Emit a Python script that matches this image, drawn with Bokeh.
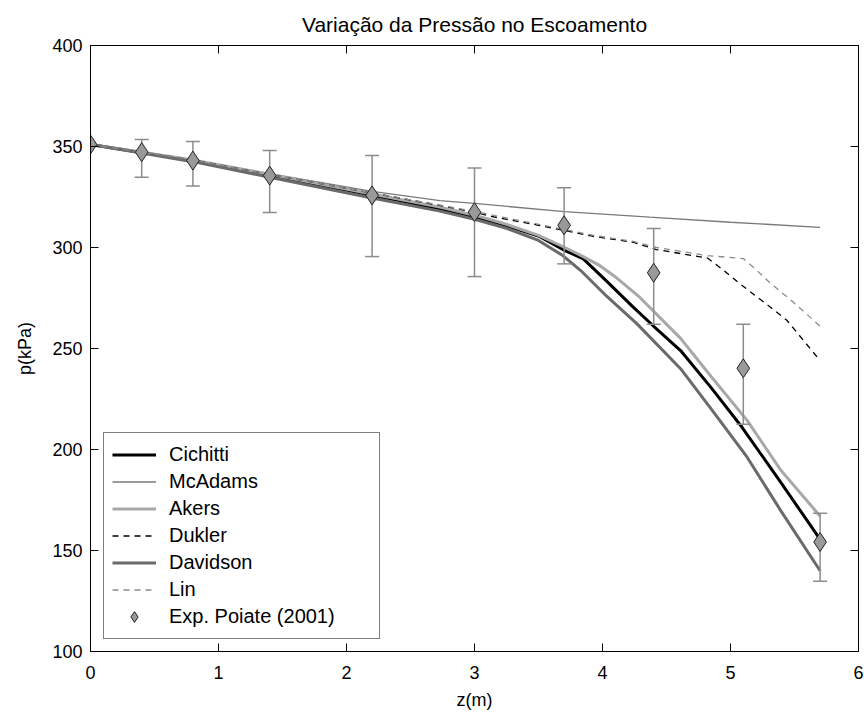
from bokeh.plotting import figure
from bokeh.models import LinearAxis, Range1d, Legend, LegendItem, FixedTicker, ColumnDataSource
from bokeh.embed import file_html
from bokeh.resources import INLINE

# ---------------- data ----------------
title_text = "Variação da Pressão no Escoamento"
x_label = "z(m)"
y_label = "p(kPa)"
x_ticks = [0, 1, 2, 3, 4, 5, 6]
y_ticks = [100, 150, 200, 250, 300, 350, 400]

z_cichitti = [0, 0.4, 0.8, 1.4, 2.2, 2.73, 3.0, 3.25, 3.51, 3.69, 3.85, 4.03, 4.24, 4.4, 4.61, 4.85, 5.09, 5.39, 5.7]
p_cichitti = [351, 347, 343, 335.6, 325.8, 319.2, 315.2, 310.8, 305.4, 299.0, 294.4, 283.5, 270.5, 261.0, 249.0, 230.5, 211.0, 184.0, 155.5]

z_mcadams = [0, 0.4, 0.8, 1.4, 2.2, 2.73, 3.0, 3.7, 4.37, 5.0, 5.7]
p_mcadams = [351, 347.2, 343.3, 336.6, 327.8, 323.2, 321.8, 317.8, 315.0, 312.5, 310.0]

z_akers = [0, 0.4, 0.8, 1.4, 2.2, 2.73, 3.0, 3.25, 3.5, 3.69, 3.85, 3.98, 4.11, 4.29, 4.61, 4.85, 5.13, 5.39, 5.7]
p_akers = [351, 347.2, 343.3, 336.2, 326.5, 320.0, 316.0, 311.5, 306.0, 300.5, 295.5, 291.0, 285.0, 275.4, 255.0, 236.0, 214.4, 190.0, 167.0]

z_dukler = [0, 0.4, 0.8, 1.4, 2.2, 2.73, 3.0, 3.12, 3.5, 3.93, 4.24, 4.42, 4.82, 4.94, 5.07, 5.28, 5.44, 5.7]
p_dukler = [351, 347.2, 343.3, 336.2, 327.0, 320.8, 317.5, 315.5, 311.0, 305.5, 302.6, 299.0, 294.8, 289.0, 282.2, 272.0, 264.0, 244.0]

z_davidson = [0, 0.4, 0.8, 1.4, 2.2, 2.73, 3.0, 3.25, 3.5, 3.69, 3.83, 4.03, 4.27, 4.61, 4.85, 5.13, 5.39, 5.7]
p_davidson = [351, 346.8, 342.5, 334.8, 324.5, 318.0, 314.0, 309.5, 303.5, 296.0, 288.6, 276.0, 262.2, 240.0, 220.0, 196.2, 170.0, 140.0]

z_lin = [0, 0.4, 0.8, 1.4, 2.2, 2.73, 3.0, 3.5, 3.93, 4.24, 4.42, 4.82, 5.1, 5.19, 5.3, 5.49, 5.7]
p_lin = [351, 347.2, 343.3, 336.2, 327.0, 321.0, 317.8, 311.5, 306.0, 303.0, 300.0, 296.0, 294.5, 289.6, 283.0, 273.0, 261.0]

z_exp = [0, 0.4, 0.8, 1.4, 2.2, 3.0, 3.7, 4.4, 5.1, 5.7]
p_exp = [351, 347.2, 343.0, 335.6, 325.8, 317.5, 311.0, 287.5, 240.2, 154.2]
p_exp_lo = [351, 334.8, 330.5, 317.3, 295.5, 285.6, 291.9, 262.0, 212.5, 134.8]
p_exp_hi = [351, 353.5, 352.5, 348.0, 345.5, 339.3, 329.6, 309.4, 262.0, 168.5]

series_names = ["Cichitti", "McAdams", "Akers", "Dukler", "Davidson", "Lin", "Exp. Poiate (2001)"]

# ---------------- styling ----------------
FONT = "Liberation Sans"
ERR = "#8c8c8c"

p = figure(width=864, height=717, x_range=Range1d(0, 6), y_range=Range1d(100, 400),
           output_backend="svg", toolbar_location=None,
           min_border_left=90, min_border_right=6, min_border_top=45, min_border_bottom=66)
p.background_fill_color = "white"
p.border_fill_color = "white"
p.outline_line_color = None
p.xgrid.visible = False
p.ygrid.visible = False

p.title.text = title_text
p.title.align = "center"
p.title.text_font = FONT
p.title.text_font_size = "21px"
p.title.text_font_style = "normal"
p.title.text_color = "black"
p.title.standoff = 19

def style_axis(ax, ticks, show_labels=True):
    ax.ticker = FixedTicker(ticks=ticks)
    ax.major_tick_in = 8
    ax.major_tick_out = 0
    ax.minor_tick_line_color = None
    ax.axis_line_color = "black"
    ax.axis_line_width = 1
    ax.major_tick_line_color = "black"
    ax.major_tick_line_width = 1
    ax.major_label_text_font = FONT
    ax.major_label_text_color = "black"
    ax.axis_label_text_font = FONT
    ax.axis_label_text_font_style = "normal"
    ax.axis_label_text_color = "black"
    if show_labels:
        ax.major_label_text_font_size = "18px"
        ax.axis_label_text_font_size = "18px"
    else:
        ax.major_label_text_font_size = "0px"
        ax.major_label_standoff = 0
        ax.major_label_overrides = {t: "" for t in ticks}

style_axis(p.xaxis[0], x_ticks)
style_axis(p.yaxis[0], y_ticks)
p.xaxis[0].axis_label = x_label
p.yaxis[0].axis_label = y_label
p.xaxis[0].major_label_standoff = 14
p.xaxis[0].axis_label_standoff = 8
p.yaxis[0].major_label_standoff = 8
p.yaxis[0].axis_label_standoff = 14

ax_r = LinearAxis()
style_axis(ax_r, y_ticks, show_labels=False)
p.add_layout(ax_r, "right")
ax_t = LinearAxis()
style_axis(ax_t, x_ticks, show_labels=False)
p.add_layout(ax_t, "above")

r_cic = p.line(z_cichitti, p_cichitti, line_color="#000000", line_width=3)
r_mca = p.line(z_mcadams, p_mcadams, line_color="#7a7a7a", line_width=1.3)
r_ake = p.line(z_akers, p_akers, line_color="#a8a8a8", line_width=3)
r_duk = p.line(z_dukler, p_dukler, line_color="#000000", line_width=1.3, line_dash="6 5")
r_dav = p.line(z_davidson, p_davidson, line_color="#6a6a6a", line_width=3)
r_lin = p.line(z_lin, p_lin, line_color="#8c8c8c", line_width=1.3, line_dash="6 5")

err_src = ColumnDataSource(dict(z=z_exp[1:], lo=p_exp_lo[1:], hi=p_exp_hi[1:]))
p.segment(x0="z", y0="lo", x1="z", y1="hi", source=err_src, line_color=ERR, line_width=1.5)
p.scatter(x="z", y="lo", source=err_src, marker="dash", size=14, line_color=ERR, line_width=1.5)
p.scatter(x="z", y="hi", source=err_src, marker="dash", size=14, line_color=ERR, line_width=1.5)

r_exp = p.scatter(z_exp, p_exp, marker="diamond", size=19,
                  fill_color="#999999", line_color="#222222", line_width=1)

renderers = [r_cic, r_mca, r_ake, r_duk, r_dav, r_lin, r_exp]
legend = Legend(items=[LegendItem(label=n, renderers=[r]) for n, r in zip(series_names, renderers)],
                location=(13, 12))
legend.border_line_color = "black"
legend.border_line_width = 1
legend.background_fill_color = "white"
legend.background_fill_alpha = 1
legend.label_text_font = FONT
legend.label_text_font_size = "20px"
legend.label_text_color = "black"
legend.glyph_width = 44
legend.glyph_height = 27
legend.label_height = 27
legend.label_width = 202
legend.spacing = 0
legend.padding = 8
legend.margin = 0
legend.label_standoff = 13
p.add_layout(legend, "center")

open("out.html", "w").write(file_html(p, INLINE))
